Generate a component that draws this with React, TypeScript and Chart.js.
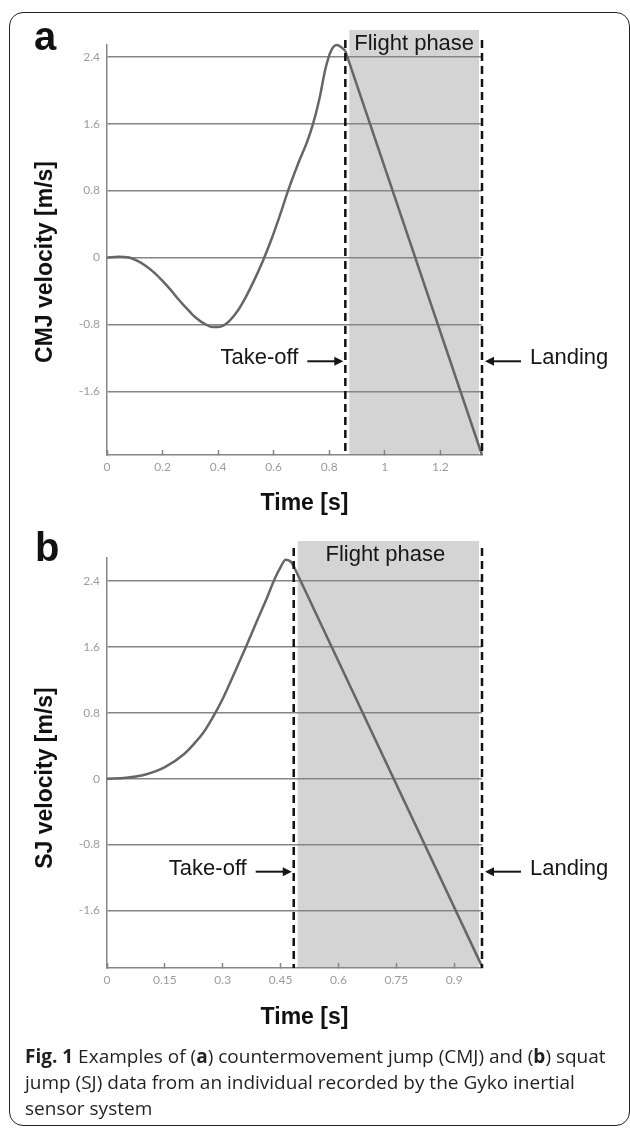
import React, { useEffect, useRef } from "react";
import { Chart, registerables } from "chart.js";

Chart.register(...registerables);

// ---------- data ----------
const cmjContactTime = [0, 0.04, 0.08, 0.11, 0.14, 0.17, 0.2, 0.23, 0.26, 0.29, 0.32, 0.35, 0.38, 0.4, 0.42, 0.44, 0.47, 0.5, 0.53, 0.56, 0.59, 0.62, 0.652, 0.695, 0.72, 0.742, 0.765, 0.786, 0.805, 0.827, 0.845, 0.858];
const cmjContactVelocity = [0, 0.01, 0, -0.04, -0.1, -0.18, -0.28, -0.39, -0.51, -0.62, -0.72, -0.79, -0.83, -0.83, -0.81, -0.76, -0.64, -0.47, -0.27, -0.05, 0.2, 0.48, 0.8, 1.18, 1.38, 1.6, 1.9, 2.25, 2.46, 2.54, 2.51, 2.47];
const cmjFlightTime = [0.858, 1.35];
const cmjFlightVelocity = [2.47, -2.36];
const cmjTimeTicks = [0, 0.2, 0.4, 0.6, 0.8, 1, 1.2];
const cmjEvents = [0.858, 1.35]; // take-off, landing

const sjContactTime = [0, 0.05, 0.1, 0.15, 0.2, 0.225, 0.25, 0.275, 0.3, 0.33, 0.36, 0.39, 0.415, 0.435, 0.45, 0.463, 0.475, 0.484];
const sjContactVelocity = [0, 0.01, 0.05, 0.14, 0.3, 0.42, 0.56, 0.75, 0.97, 1.28, 1.6, 1.93, 2.2, 2.43, 2.57, 2.66, 2.64, 2.58];
const sjFlightTime = [0.484, 0.972];
const sjFlightVelocity = [2.58, -2.28];
const sjTimeTicks = [0, 0.15, 0.3, 0.45, 0.6, 0.75, 0.9];
const sjEvents = [0.484, 0.972]; // take-off, landing

const velocityTicks = [-1.6, -0.8, 0, 0.8, 1.6, 2.4];

// ---------- styling / layout ----------
const GRID = "#858585";
const TICK_TEXT = "#9c9c9c";
const CURVE = "#666666";
const SHADE = "#d4d4d4";
const INK = "#161616";
const SANS = "'Liberation Sans', Arial, sans-serif";

type PanelCfg = {
  letter: string;
  yTitle: string;
  contactT: number[];
  contactV: number[];
  flightT: number[];
  flightV: number[];
  timeTicks: number[];
  events: number[];
  xMax: number;
  yMin: number;
  yMax: number;
  top: number;
  height: number;
  padTop: number;
  xHeight: number;
  shadeAbove: number;
  dashAbove: number;
  arrowY: number;
  yTitleY: number;
  xTitleY: number;
  letterX: number;
  letterY: number;
  flightShift: number;
};

const panels: PanelCfg[] = [
  {
    letter: "a",
    yTitle: "CMJ velocity [m/s]",
    contactT: cmjContactTime,
    contactV: cmjContactVelocity,
    flightT: cmjFlightTime,
    flightV: cmjFlightVelocity,
    timeTicks: cmjTimeTicks,
    events: cmjEvents,
    xMax: 1.35,
    yMin: -2.36,
    yMax: 2.54,
    top: 0,
    height: 520,
    padTop: 45,
    xHeight: 65,
    shadeAbove: 15,
    dashAbove: 5,
    arrowY: -1.24,
    yTitleY: 262,
    xTitleY: 504,
    letterX: 34,
    letterY: 50,
    flightShift: 0,
  },
  {
    letter: "b",
    yTitle: "SJ velocity [m/s]",
    contactT: sjContactTime,
    contactV: sjContactVelocity,
    flightT: sjFlightTime,
    flightV: sjFlightVelocity,
    timeTicks: sjTimeTicks,
    events: sjEvents,
    xMax: 0.972,
    yMin: -2.3,
    yMax: 2.68,
    top: 520,
    height: 525,
    padTop: 38,
    xHeight: 77,
    shadeAbove: 17,
    dashAbove: 10,
    arrowY: -1.13,
    yTitleY: 258,
    xTitleY: 498,
    letterX: 35,
    letterY: 41,
    flightShift: -3,
  },
];

function arrow(ctx: CanvasRenderingContext2D, fromX: number, toX: number, y: number) {
  const dir = toX > fromX ? 1 : -1;
  ctx.save();
  ctx.strokeStyle = INK;
  ctx.fillStyle = INK;
  ctx.lineWidth = 2;
  ctx.beginPath();
  ctx.moveTo(fromX, y);
  ctx.lineTo(toX - dir * 6, y);
  ctx.stroke();
  ctx.beginPath();
  ctx.moveTo(toX, y);
  ctx.lineTo(toX - dir * 9, y - 4.5);
  ctx.lineTo(toX - dir * 9, y + 4.5);
  ctx.closePath();
  ctx.fill();
  ctx.restore();
}

function makePlugin(cfg: PanelCfg) {
  return {
    id: "panelDecor" + cfg.letter,
    beforeDraw(chart: any) {
      const { ctx, chartArea, scales } = chart;
      const x = scales.x;
      const x0 = x.getPixelForValue(cfg.events[0]) + 4;
      const x1 = x.getPixelForValue(cfg.events[1]) - 3;
      const top = chartArea.top - cfg.shadeAbove;
      ctx.save();
      ctx.fillStyle = SHADE;
      ctx.fillRect(x0, top, x1 - x0, chartArea.bottom - top);
      ctx.restore();
    },
    afterDraw(chart: any) {
      const { ctx, chartArea, scales } = chart;
      const x = scales.x;
      const y = scales.y;
      const tPx = x.getPixelForValue(cfg.events[0]);
      const lPx = x.getPixelForValue(cfg.events[1]);

      // dashed event lines
      ctx.save();
      ctx.strokeStyle = "#111";
      ctx.lineWidth = 2.5;
      ctx.setLineDash([8, 5]);
      for (const px of [tPx, lPx]) {
        ctx.beginPath();
        ctx.moveTo(px, chartArea.top - cfg.dashAbove);
        ctx.lineTo(px, chartArea.bottom);
        ctx.stroke();
      }
      ctx.restore();

      ctx.save();
      ctx.fillStyle = INK;
      // Flight phase label
      ctx.font = `22px ${SANS}`;
      ctx.textAlign = "center";
      ctx.textBaseline = "middle";
      const shadeTop = chartArea.top - cfg.shadeAbove;
      ctx.fillText("Flight phase", (tPx + 4 + lPx - 3) / 2 + cfg.flightShift, shadeTop + 14);

      // take-off / landing
      const ay = y.getPixelForValue(cfg.arrowY);
      ctx.textAlign = "right";
      ctx.fillText("Take-off", tPx - 47, ay - 3);
      ctx.textAlign = "left";
      ctx.fillText("Landing", lPx + 48, ay - 3);
      arrow(ctx, tPx - 38, tPx - 2, ay);
      arrow(ctx, lPx + 39, lPx + 3, ay);

      // axis titles
      ctx.font = `bold 23px ${SANS}`;
      ctx.fillStyle = "#111";
      ctx.textAlign = "center";
      ctx.textBaseline = "middle";
      ctx.fillText("Time [s]", (chartArea.left + chartArea.right) / 2 + 10, cfg.xTitleY);
      ctx.save();
      ctx.translate(46, cfg.yTitleY);
      ctx.rotate(-Math.PI / 2);
      ctx.fillText(cfg.yTitle, 0, 0);
      ctx.restore();

      // panel letter
      ctx.font = `bold 40px ${SANS}`;
      ctx.textAlign = "left";
      ctx.textBaseline = "alphabetic";
      ctx.fillText(cfg.letter, cfg.letterX, cfg.letterY);
      ctx.restore();
    },
  };
}

function Panel({ cfg }: { cfg: PanelCfg }) {
  const ref = useRef<HTMLCanvasElement>(null);
  useEffect(() => {
    const canvas = ref.current;
    if (!canvas) return;
    const contact = cfg.contactT.map((t, i) => ({ x: t, y: cfg.contactV[i] }));
    const flight = cfg.flightT.map((t, i) => ({ x: t, y: cfg.flightV[i] }));
    const chart = new Chart(canvas, {
      type: "line",
      data: {
        datasets: [
          {
            data: contact,
            borderColor: CURVE,
            borderWidth: 2.5,
            pointRadius: 0,
            cubicInterpolationMode: "monotone",
            fill: false,
            clip: false,
          } as any,
          {
            data: flight,
            borderColor: CURVE,
            borderWidth: 2.5,
            pointRadius: 0,
            tension: 0,
            fill: false,
            clip: false,
          } as any,
        ],
      },
      options: {
        animation: false,
        responsive: false,
        devicePixelRatio: 1,
        events: [],
        layout: { padding: { left: 0, right: 148, top: cfg.padTop, bottom: 0 } },
        plugins: { legend: { display: false }, tooltip: { enabled: false }, title: { display: false } },
        scales: {
          x: {
            type: "linear",
            min: 0,
            max: cfg.xMax,
            afterBuildTicks: (s: any) => {
              s.ticks = cfg.timeTicks.map((v) => ({ value: v }));
            },
            afterFit: (s: any) => {
              s.height = cfg.xHeight;
            },
            grid: {
              display: true,
              drawOnChartArea: false,
              drawTicks: true,
              tickLength: -5,
              tickColor: GRID,
              tickWidth: 1.5,
              color: GRID,
            },
            border: { display: true, color: GRID, width: 1.5 },
            ticks: {
              color: TICK_TEXT,
              font: { family: "Lato", size: 12 },
              padding: 10,
              maxRotation: 0,
              autoSkip: false,
              callback: (v: any) => String(v),
            },
          },
          y: {
            type: "linear",
            min: cfg.yMin,
            max: cfg.yMax,
            afterBuildTicks: (s: any) => {
              s.ticks = velocityTicks.map((v) => ({ value: v }));
            },
            afterFit: (s: any) => {
              s.width = 107;
            },
            grid: { color: GRID, lineWidth: 1.5, drawTicks: false },
            border: { display: true, color: GRID, width: 1.5 },
            ticks: {
              color: TICK_TEXT,
              font: { family: "Lato", size: 12 },
              padding: 7,
              autoSkip: false,
              callback: (v: any) => String(v),
            },
          },
        },
      } as any,
      plugins: [makePlugin(cfg)],
    });
    return () => chart.destroy();
  }, [cfg]);
  return (
    <canvas
      ref={ref}
      width={630}
      height={cfg.height}
      style={{ position: "absolute", left: 0, top: cfg.top, width: 630, height: cfg.height }}
    />
  );
}

export default function App() {
  return (
    <div style={{ position: "absolute", left: 0, top: 0, width: 630, height: 1128, background: "#fff", overflow: "hidden" }}>
      <div
        style={{
          position: "absolute",
          left: 9,
          top: 12,
          width: 621,
          height: 1114,
          border: "1.5px solid #222",
          borderRadius: 14,
          boxSizing: "border-box",
        }}
      />
      {panels.map((p) => (
        <Panel key={p.letter} cfg={p} />
      ))}
      <div
        style={{
          position: "absolute",
          left: 25,
          top: 1043,
          fontFamily: "'Open Sans', sans-serif",
          fontSize: 19,
          lineHeight: "26px",
          color: "#231f20",
          whiteSpace: "nowrap",
        }}
      >
        <b>Fig. 1</b> Examples of (<b>a</b>) countermovement jump (CMJ) and (<b>b</b>) squat
        <br />
        jump (SJ) data from an individual recorded by the Gyko inertial
        <br />
        sensor system
      </div>
    </div>
  );
}
